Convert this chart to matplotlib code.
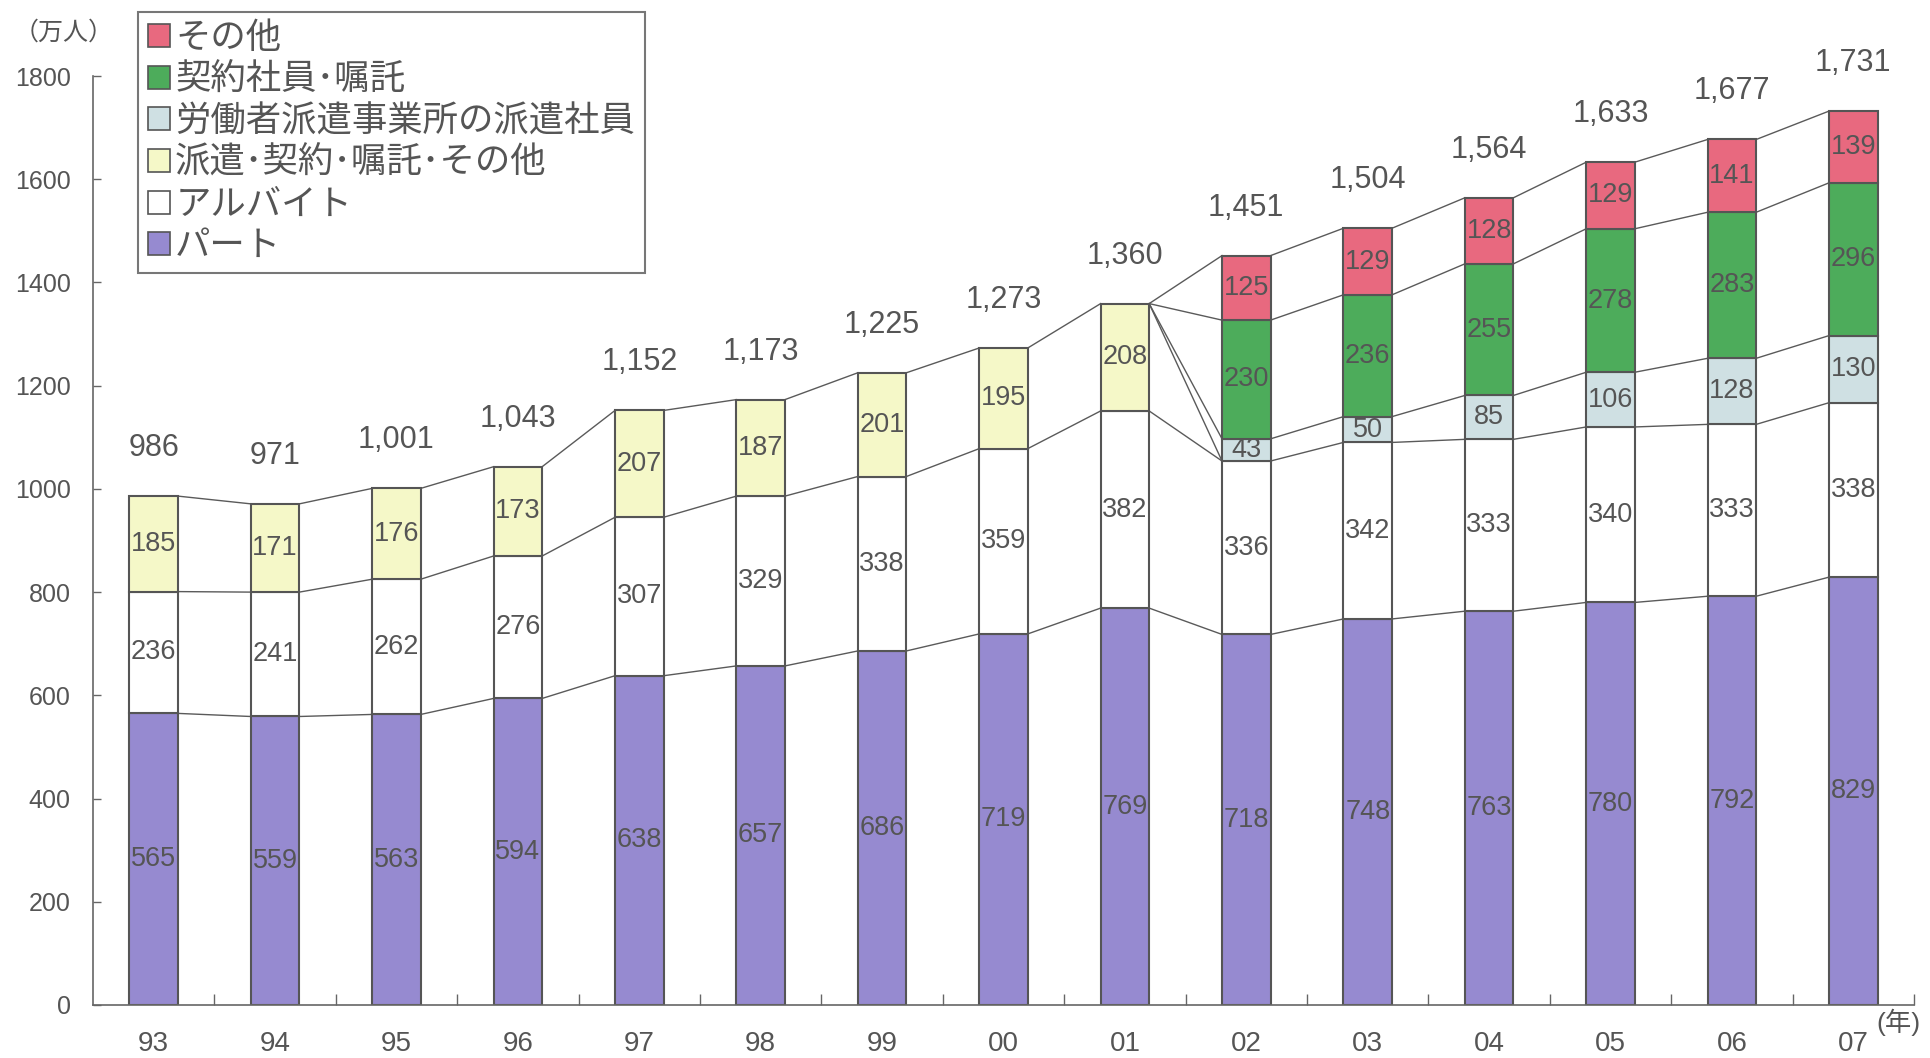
import matplotlib
matplotlib.use('Agg')
import matplotlib.pyplot as plt
from matplotlib.patches import Patch

years = ['93', '94', '95', '96', '97', '98', '99', '00', '01', '02', '03', '04', '05', '06', '07']
part = [565, 559, 563, 594, 638, 657, 686, 719, 769, 718, 748, 763, 780, 792, 829]
arbeit = [236, 241, 262, 276, 307, 329, 338, 359, 382, 336, 342, 333, 340, 333, 338]
haken_keiyaku = [185, 171, 176, 173, 207, 187, 201, 195, 208, 0, 0, 0, 0, 0, 0]
haken = [0, 0, 0, 0, 0, 0, 0, 0, 0, 43, 50, 85, 106, 128, 130]
keiyaku = [0, 0, 0, 0, 0, 0, 0, 0, 0, 230, 236, 255, 278, 283, 296]
sonota = [0, 0, 0, 0, 0, 0, 0, 0, 0, 125, 129, 128, 129, 141, 139]
totals = ['986', '971', '1,001', '1,043', '1,152', '1,173', '1,225', '1,273', '1,360',
          '1,451', '1,504', '1,564', '1,633', '1,677', '1,731']

names = ['パート', 'アルバイト', '派遣･契約･嘱託･その他', '労働者派遣事業所の派遣社員',
         '契約社員･嘱託', 'その他']
colors = ['#968ad0', '#ffffff', '#f5f8c8', '#cfe0e3', '#4dac5b', '#e8697f']
series = [part, arbeit, haken_keiyaku, haken, keiyaku, sonota]

plt.rcParams['font.family'] = ['Liberation Sans', 'Noto Sans CJK JP', 'DejaVu Sans']
text_c = '#555555'
edge_c = '#555555'

fig = plt.figure(figsize=(19.31, 10.58), dpi=100)
ax = fig.add_axes([93 / 1931, 1 - 1005 / 1058, (1914 - 93) / 1931, (1005 - 76) / 1058])

x = list(range(len(years)))
w = 0.4
bottom = [0] * len(years)
tops = []
for vals, col in zip(series, colors):
    for i in x:
        if vals[i] > 0:
            ax.bar(i, vals[i], w, bottom=bottom[i], color=col, edgecolor=edge_c, linewidth=1.5, zorder=2)
            ax.text(i, bottom[i] + vals[i] / 2, str(vals[i]), ha='center', va='center',
                    fontsize=19.5, color=text_c, zorder=3)
    bottom = [b + v for b, v in zip(bottom, vals)]
    tops.append(list(bottom))

# connecting lines between bars
for i in range(len(years) - 1):
    done = set()
    for top in tops:
        key = (top[i], top[i + 1])
        if key in done:
            continue
        done.add(key)
        ax.plot([i + w / 2, i + 1 - w / 2], [top[i], top[i + 1]], color='#5a5a5a', lw=1.0, zorder=1)

# totals
for i in x:
    ax.text(i, bottom[i] + 93, totals[i], ha='center', va='center', fontsize=22, color=text_c)

ax.set_xlim(-0.5, len(years) - 0.5)
ax.set_ylim(0, 1800)
ax.set_yticks(range(0, 1801, 200))
ax.tick_params(axis='y', direction='in', length=6, width=1, color='#666666',
               labelsize=18, labelcolor=text_c, pad=16)
ax.set_xticks(x)
ax.set_xticklabels(years)
ax.tick_params(axis='x', which='major', length=0, labelsize=20, labelcolor=text_c, pad=19)
ax.set_xticks([i + 0.5 for i in x], minor=True)
ax.tick_params(axis='x', which='minor', direction='in', length=8, width=1, color='#666666')

for s in ['top', 'right']:
    ax.spines[s].set_visible(False)
for s in ['left', 'bottom']:
    ax.spines[s].set_color('#666666')
    ax.spines[s].set_linewidth(1.2)
ax.spines['left'].set_bounds(0, 1800)

fig.text(14 / 1931, 1 - 33 / 1058, '（万人）', fontsize=18, color=text_c, va='center', ha='left')
fig.text(1876 / 1931, 1 - 1022 / 1058, '(年)', fontsize=19, color=text_c, va='center', ha='left')

handles = [Patch(facecolor=colors[k], edgecolor=edge_c, linewidth=1.2) for k in range(5, -1, -1)]
labels = [names[k] for k in range(5, -1, -1)]
leg = fig.legend(handles, labels, loc='upper left', bbox_to_anchor=(138 / 1931, 1 - 12 / 1058),
                 bbox_transform=fig.transFigure, borderaxespad=0, fontsize=25.5,
                 handlelength=0.62, handleheight=0.62, handletextpad=0.15, labelspacing=0.24,
                 borderpad=0.28, fancybox=False, framealpha=1, edgecolor='#777777')
leg.get_frame().set_linewidth(1.5)
for t in leg.get_texts():
    t.set_color(text_c)

fig.savefig('out.png', dpi=100, facecolor='white')
